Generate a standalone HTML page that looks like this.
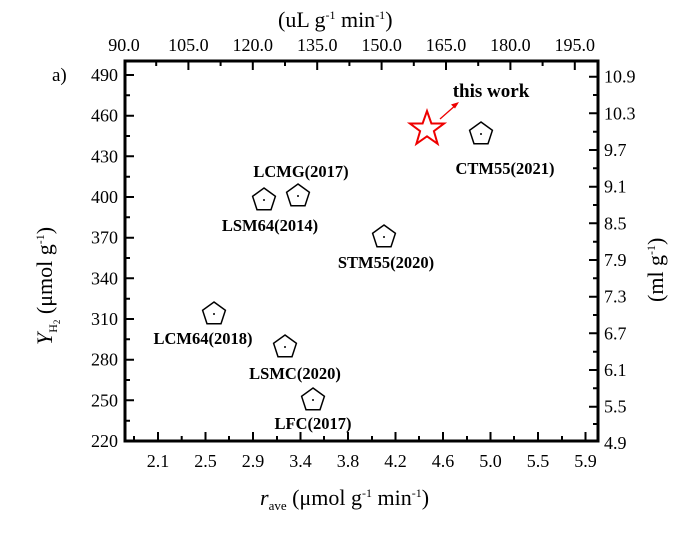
<!DOCTYPE html>
<html><head><meta charset="utf-8"><style>
body{margin:0;background:#fff}
svg text{font-family:"Liberation Serif",serif;fill:#000}
</style></head><body>
<svg width="693" height="530" xmlns="http://www.w3.org/2000/svg">
<rect x="125" y="61" width="473" height="380" fill="none" stroke="#000" stroke-width="3"/>
<g stroke="#000" stroke-width="2">
<path d="M158 441v-9M205.5 441v-9M253 441v-9M300.5 441v-9M348 441v-9M395.5 441v-9M443 441v-9M490.5 441v-9M538 441v-9M585.5 441v-9"/>
<path d="M134 441v-5M181.7 441v-5M229 441v-5M277 441v-5M324 441v-5M372 441v-5M419 441v-5M467 441v-5M514 441v-5M562 441v-5"/>
<path d="M188.4 61v9M252.8 61v9M317.2 61v9M381.6 61v9M446 61v9M510.4 61v9M574.8 61v9"/>
<path d="M156.2 61v5M220.6 61v5M285 61v5M349.4 61v5M413.8 61v5M478.2 61v5M542.6 61v5"/>
<path d="M125 75h9M125 115.7h9M125 156.3h9M125 197h9M125 237.7h9M125 278.3h9M125 319h9M125 359.7h9M125 400.3h9"/>
<path d="M125 95.3h5M125 136h5M125 176.7h5M125 217.3h5M125 258h5M125 298.7h5M125 339.3h5M125 380h5M125 420.7h5"/>
<path d="M598 76.7h-9M598 113.3h-9M598 150h-9M598 186.7h-9M598 223.3h-9M598 260h-9M598 296.7h-9M598 333.3h-9M598 370h-9M598 406.7h-9"/>
<path d="M598 95h-5M598 131.7h-5M598 168.3h-5M598 205h-5M598 241.7h-5M598 278.3h-5M598 315h-5M598 351.7h-5M598 388.3h-5M598 424h-5"/>
</g>
<g font-size="18" text-anchor="middle">
<text x="158" y="467">2.1</text><text x="205.5" y="467">2.5</text><text x="253" y="467">2.9</text><text x="300.5" y="467">3.4</text><text x="348" y="467">3.8</text><text x="395.5" y="467">4.2</text><text x="443" y="467">4.6</text><text x="490.5" y="467">5.0</text><text x="538" y="467">5.5</text><text x="585.5" y="467">5.9</text>
<text x="124" y="51">90.0</text><text x="188.4" y="51">105.0</text><text x="252.8" y="51">120.0</text><text x="317.2" y="51">135.0</text><text x="381.6" y="51">150.0</text><text x="446" y="51">165.0</text><text x="510.4" y="51">180.0</text><text x="574.8" y="51">195.0</text>
</g>
<g font-size="18" text-anchor="end">
<text x="118" y="81">490</text><text x="118" y="121.7">460</text><text x="118" y="162.3">430</text><text x="118" y="203">400</text><text x="118" y="243.7">370</text><text x="118" y="284.3">340</text><text x="118" y="325">310</text><text x="118" y="365.7">280</text><text x="118" y="406.3">250</text><text x="118" y="447">220</text>
</g>
<g font-size="18">
<text x="604" y="82.7">10.9</text><text x="604" y="119.3">10.3</text><text x="604" y="156">9.7</text><text x="604" y="192.7">9.1</text><text x="604" y="229.3">8.5</text><text x="604" y="266">7.9</text><text x="604" y="302.7">7.3</text><text x="604" y="339.3">6.7</text><text x="604" y="376">6.1</text><text x="604" y="412.7">5.5</text><text x="604" y="449">4.9</text>
</g>
<text x="52" y="81" font-size="19">a)</text>
<text x="260" y="505" font-size="22"><tspan font-style="italic">r</tspan><tspan font-size="13" dy="5">ave</tspan><tspan dy="-5"> (μmol g</tspan><tspan font-size="12" dy="-8">-1</tspan><tspan dy="8"> min</tspan><tspan font-size="12" dy="-8">-1</tspan><tspan dy="8">)</tspan></text>
<text x="278" y="27" font-size="22">(uL g<tspan font-size="12" dy="-8">-1</tspan><tspan dy="8"> min</tspan><tspan font-size="12" dy="-8">-1</tspan><tspan dy="8">)</tspan></text>
<text transform="translate(52,345) rotate(-90)" font-size="22"><tspan font-style="italic">Y</tspan><tspan font-size="12" dy="5">H</tspan><tspan font-size="9" dy="3">2</tspan><tspan dy="-8"> (μmol g</tspan><tspan font-size="12" dy="-8">-1</tspan><tspan dy="8">)</tspan></text>
<text transform="translate(663,302) rotate(-90)" font-size="22">(ml g<tspan font-size="12" dy="-8">-1</tspan><tspan dy="8">)</tspan></text>
<defs><path id="p" d="M0 -12L11.4 -3.7L7 9.7L-7 9.7L-11.4 -3.7Z" fill="#fff" stroke="#000" stroke-width="1.5"/></defs>
<g>
<use href="#p" x="264" y="200"/><use href="#p" x="298" y="196"/><use href="#p" x="384" y="237"/><use href="#p" x="481" y="134"/><use href="#p" x="214" y="314"/><use href="#p" x="285" y="347"/><use href="#p" x="313" y="400"/>
</g>
<g fill="#000"><circle cx="264" cy="200" r="1"/><circle cx="298" cy="196" r="1"/><circle cx="384" cy="237" r="1"/><circle cx="481" cy="134" r="1"/><circle cx="214" cy="314" r="1"/><circle cx="285" cy="347" r="1"/><circle cx="313" cy="400" r="1"/></g>
<path d="M427 111L431.4 123.5L444.1 123.5L433.9 131.1L437.6 143.8L427 136.3L416.4 143.8L420.1 131.1L409.9 123.5L422.6 123.5Z" fill="none" stroke="#e00" stroke-width="2"/>
<path d="M440 119L457 104" stroke="#e00" stroke-width="1.3"/><path d="M459 102L451 104.5L455 108.5Z" fill="#e00"/>
<g font-size="16.5" font-weight="bold" text-anchor="middle">
<text x="491" y="97" font-size="19">this work</text>
<text x="301" y="177">LCMG(2017)</text>
<text x="270" y="231">LSM64(2014)</text>
<text x="386" y="268">STM55(2020)</text>
<text x="505" y="174">CTM55(2021)</text>
<text x="203" y="344">LCM64(2018)</text>
<text x="295" y="379">LSMC(2020)</text>
<text x="313" y="429">LFC(2017)</text>
</g>
</svg>
</body></html>
